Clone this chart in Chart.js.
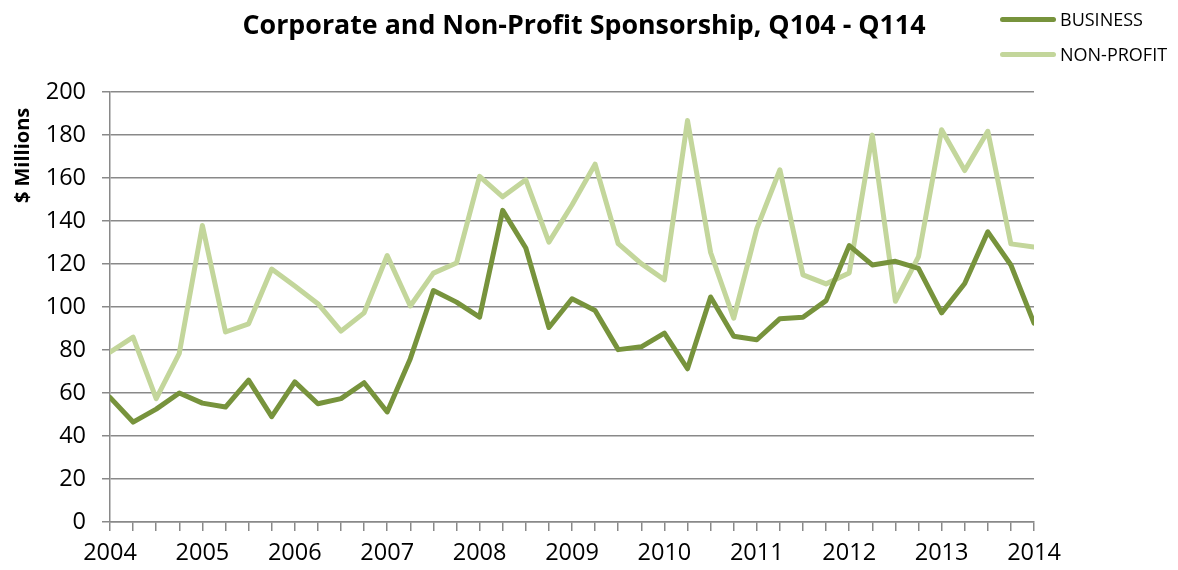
<!DOCTYPE html>
<html>
<head>
<meta charset="utf-8">
<script src="https://cdn.jsdelivr.net/npm/chart.js@4.4.1/dist/chart.umd.min.js"></script>
<style>
  html, body { margin: 0; padding: 0; background: #fff; }
  #wrap { position: relative; width: 1178px; height: 570px; }
  #legend { position: absolute; left: 1000px; top: 6px; font-family: "Open Sans", sans-serif; font-size: 18px; color: #000; }
  .item { display: flex; align-items: center; height: 26px; margin-bottom: 9px; }
  .swatch { width: 56px; height: 5px; border-radius: 3px; margin-right: 4px; }
</style>
</head>
<body>
<div id="wrap">
  <canvas id="c" width="1178" height="570"></canvas>
  <div id="legend"></div>
</div>
<script>
const quarters = [];
for (let y = 2004; y <= 2014; y++) {
  for (let q = 0; q < 4; q++) {
    if (y === 2014 && q > 0) break;
    quarters.push(y + q / 4);
  }
}
const seriesNames = ["BUSINESS", "NON-PROFIT"];
const business = [58, 46.5, 52.5, 60, 55.3, 53.5, 66, 49, 65.2, 55, 57.4, 64.8, 51.2, 76, 107.7, 102.3, 95.3, 145, 127.5, 90.5, 103.9, 98.4, 80.2, 81.5, 87.9, 71.3, 104.7, 86.4, 84.8, 94.6, 95.3, 103, 128.6, 119.6, 121.3, 118, 97.3, 111, 135, 119.6, 92.5];
const nonProfit = [79, 86, 57.4, 78.5, 138, 88.4, 92.2, 117.7, 109.8, 101.6, 88.8, 97.3, 124, 100.5, 115.8, 120.5, 160.8, 151.3, 159.2, 130.2, 147.5, 166.5, 129.5, 120.2, 112.7, 186.8, 125.4, 94.8, 136.5, 163.9, 115, 110.8, 115.9, 180, 102.7, 123.5, 182.5, 163.5, 181.8, 129.4, 128];
const colors = ["#77933C", "#C3D69B"];
const yTicks = [0, 20, 40, 60, 80, 100, 120, 140, 160, 180, 200];

const FONT = '"Open Sans", sans-serif';
const gridColor = '#898989';

const datasets = [business, nonProfit].map((vals, i) => ({
  label: seriesNames[i],
  data: vals.map((v, k) => ({ x: quarters[k], y: v })),
  borderColor: colors[i],
  backgroundColor: colors[i],
  borderWidth: 5,
  pointRadius: 0,
  tension: 0,
  borderJoinStyle: 'round',
  borderCapStyle: 'round',
  order: i === 0 ? 0 : 1
}));

new Chart(document.getElementById('c'), {
  type: 'line',
  data: { datasets },
  options: {
    responsive: false,
    animation: false,
    layout: { padding: { left: 8, right: 18, top: 0, bottom: 1 } },
    plugins: {
      legend: { display: false },
      tooltip: { enabled: false },
      title: {
        display: true,
        text: 'Corporate and Non-Profit Sponsorship, Q104 - Q114',
        font: { family: FONT, size: 26.8, weight: 'bold' },
        color: '#000',
        padding: { top: 10, bottom: 50 }
      }
    },
    scales: {
      x: {
        type: 'linear',
        min: 2004, max: 2014,
        afterBuildTicks: (s) => { s.ticks = quarters.map(v => ({ value: v })); },
        afterFit: (s) => { s.height = 47; },
        ticks: {
          autoSkip: false, maxRotation: 0, padding: 8,
          font: { family: FONT, size: 23.5 }, color: '#000',
          callback: (v) => (Number.isInteger(v) ? String(v) : '')
        },
        grid: { drawOnChartArea: false, drawTicks: true, tickLength: 9, color: gridColor, lineWidth: 1.5 },
        border: { color: gridColor, width: 1.5 }
      },
      y: {
        min: 0, max: 200,
        afterBuildTicks: (s) => { s.ticks = yTicks.map(v => ({ value: v })); },
        afterFit: (s) => { s.width = 102; },
        ticks: { padding: 16, font: { family: FONT, size: 23.5 }, color: '#000' },
        grid: { color: gridColor, lineWidth: 1.5, tickLength: 8 },
        border: { color: gridColor, width: 1.5 },
        title: {
          display: true, text: '$ Millions   ', align: 'end',
          font: { family: FONT, size: 20, weight: 'bold' }, color: '#000',
          padding: { top: 3, bottom: 0 }
        }
      },
      spacer: {
        position: 'right',
        display: true,
        ticks: { display: false },
        grid: { display: false },
        border: { display: false },
        afterFit: (s) => { s.width = 126; }
      }
    }
  }
});

const leg = document.getElementById('legend');
seriesNames.forEach((n, i) => {
  const d = document.createElement('div');
  d.className = 'item';
  d.innerHTML = '<span class="swatch" style="background:' + colors[i] + '"></span><span>' + n + '</span>';
  leg.appendChild(d);
});
</script>
</body>
</html>
